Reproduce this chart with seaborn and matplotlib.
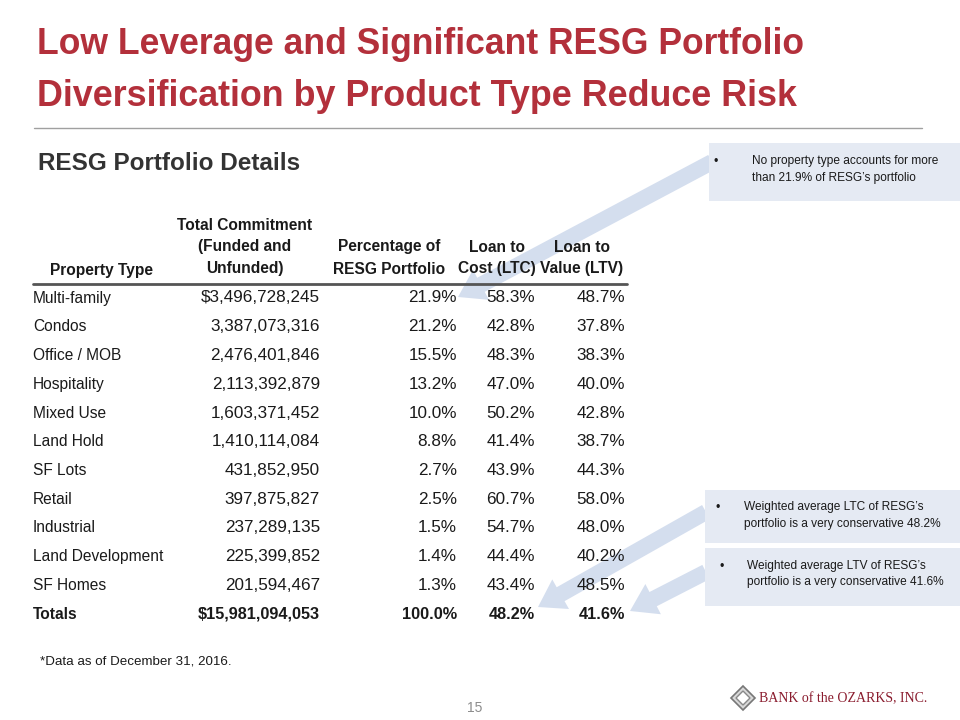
import matplotlib
matplotlib.use('Agg')
import matplotlib.pyplot as plt
import seaborn as sns
from matplotlib.patches import FancyArrow, Rectangle, Polygon

# table data
property_types = ['Multi-family', 'Condos', 'Office / MOB', 'Hospitality', 'Mixed Use', 'Land Hold',
                  'SF Lots', 'Retail', 'Industrial', 'Land Development', 'SF Homes']
commitments = [3496728245, 3387073316, 2476401846, 2113392879, 1603371452, 1410114084,
               431852950, 397875827, 237289135, 225399852, 201594467]
pct_portfolio = [21.9, 21.2, 15.5, 13.2, 10.0, 8.8, 2.7, 2.5, 1.5, 1.4, 1.3]
ltc = [58.3, 42.8, 48.3, 47.0, 50.2, 41.4, 43.9, 60.7, 54.7, 44.4, 43.4]
ltv = [48.7, 37.8, 38.3, 40.0, 42.8, 38.7, 44.3, 58.0, 48.0, 40.2, 48.5]
total_commitment = 15981094053
total_pct = 100.0
total_ltc = 48.2
total_ltv = 41.6

callouts = ['No property type accounts for more\nthan 21.9% of RESG\u2019s portfolio',
            'Weighted average LTC of RESG\u2019s\nportfolio is a very conservative 48.2%',
            'Weighted average LTV of RESG\u2019s\nportfolio is a very conservative 41.6%']

sns.set_theme(style='white')
plt.rcParams['font.family'] = ['Liberation Sans', 'DejaVu Sans']

red = '#B3303B'
dark = '#1a1a1a'

fig = plt.figure(figsize=(9.6, 7.2), dpi=100)
ax = fig.add_axes([0, 0, 1, 1])
ax.set_xlim(0, 960)
ax.set_ylim(720, 0)
ax.axis('off')

# title
ax.text(37, 44, 'Low Leverage and Significant RESG Portfolio', fontsize=25.6, fontweight='bold',
        color=red, va='center', ha='left')
ax.text(37, 96, 'Diversification by Product Type Reduce Risk', fontsize=25.8, fontweight='bold',
        color=red, va='center', ha='left')
ax.plot([34, 922], [128, 128], color='#a0a0a0', lw=1)

ax.text(38, 163, 'RESG Portfolio Details', fontsize=17.5, fontweight='bold', color='#333333',
        va='center', ha='left')

# arrows behind text
arrow_kw = dict(color='#c6d3e9', alpha=0.75, lw=0, length_includes_head=True,
                width=16, head_width=34, head_length=26, zorder=1)
ax.add_patch(FancyArrow(712, 162, 458 - 712, 297 - 162, **arrow_kw))
ax.add_patch(FancyArrow(706, 512, 538 - 706, 607 - 512, **arrow_kw))
ax.add_patch(FancyArrow(706, 572, 630 - 706, 611 - 572, **arrow_kw))

# header
hdr = dict(fontsize=11.2, fontweight='bold', color=dark, va='center', ha='center', zorder=3)
ax.text(101, 270, 'Property Type', **hdr)
ax.text(245, 225, 'Total Commitment', **hdr)
ax.text(245, 247, '(Funded and', **hdr)
ax.text(245, 269, 'Unfunded)', **hdr)
ax.text(389, 247, 'Percentage of', **hdr)
ax.text(389, 269, 'RESG Portfolio', **hdr)
ax.text(497, 247, 'Loan to', **hdr)
ax.text(497, 269, 'Cost (LTC)', **hdr)
ax.text(582, 247, 'Loan to', **hdr)
ax.text(582, 269, 'Value (LTV)', **hdr)
ax.plot([33, 627], [284, 284], color='#555555', lw=2, zorder=3)

# rows
row_y0 = 298
row_step = 28.75
name_fs = 11.2
num_fs = 12.3
cell = dict(color=dark, va='center', zorder=3)
for i, name in enumerate(property_types):
    y = row_y0 + i * row_step
    money = f'${commitments[i]:,}' if i == 0 else f'{commitments[i]:,}'
    ax.text(33, y, name, ha='left', fontsize=name_fs, **cell)
    ax.text(320, y, money, ha='right', fontsize=num_fs, **cell)
    ax.text(457, y, f'{pct_portfolio[i]:.1f}%', ha='right', fontsize=num_fs, **cell)
    ax.text(535, y, f'{ltc[i]:.1f}%', ha='right', fontsize=num_fs, **cell)
    ax.text(625, y, f'{ltv[i]:.1f}%', ha='right', fontsize=num_fs, **cell)

y = row_y0 + len(property_types) * row_step
ax.text(33, y, 'Totals', ha='left', fontweight='bold', fontsize=name_fs, **cell)
ax.text(320, y, f'${total_commitment:,}', ha='right', fontweight='bold', fontsize=num_fs - 0.6, **cell)
ax.text(457, y, f'{total_pct:.1f}%', ha='right', fontweight='bold', fontsize=num_fs - 0.6, **cell)
ax.text(535, y, f'{total_ltc:.1f}%', ha='right', fontweight='bold', fontsize=num_fs - 0.6, **cell)
ax.text(625, y, f'{total_ltv:.1f}%', ha='right', fontweight='bold', fontsize=num_fs - 0.6, **cell)

ax.text(40, 662, '*Data as of December 31, 2016.', fontsize=9.6, color=dark, va='center', ha='left')

# callout boxes
boxes = [(709, 143, 251, 58, 714, 752, 161), (705, 490, 255, 53, 716, 744, 507),
         (705, 548, 255, 58, 720, 747, 566)]
for (bx, by, bw, bh, bulx, tx, ty), txt in zip(boxes, callouts):
    ax.add_patch(Rectangle((bx, by), bw, bh, facecolor='#e5eaf3', edgecolor='none', zorder=2))
    ax.text(bulx, ty + 1, '\u2022', fontsize=9, color=dark, va='center', ha='left', zorder=3)
    ax.text(tx, ty - 6, txt, fontsize=8.6, color=dark, va='top', ha='left', zorder=3,
            linespacing=1.5)

# page number
ax.text(475, 708, '15', fontsize=10, color='#8c8c8c', va='center', ha='center')

# logo
ax.add_patch(Polygon([(743, 686), (755, 698), (743, 710), (731, 698)], closed=True,
                     facecolor='#d8d8d8', edgecolor='#777777', lw=1.2))
ax.add_patch(Polygon([(743, 691), (750, 698), (743, 705), (736, 698)], closed=True,
                     facecolor='white', edgecolor='#888888', lw=1))
ax.text(759, 699, 'BANK of the OZARKS, INC.', fontsize=10, color='#8a1c2e', va='center', ha='left',
        family=['Liberation Serif', 'DejaVu Serif'])

fig.savefig('out.png', dpi=100)
